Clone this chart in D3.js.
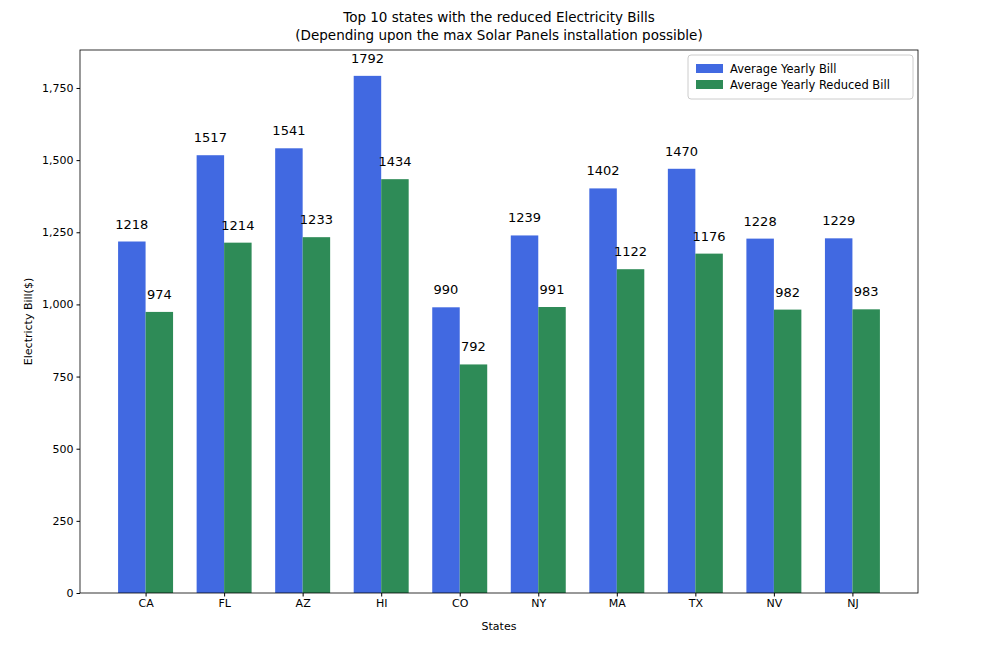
<!DOCTYPE html>
<html>
<head>
<meta charset="utf-8">
<script src="https://cdn.jsdelivr.net/npm/d3@7"></script>
<style>
  body { margin: 0; background: #fff; }
  text { font-family: "DejaVu Sans", sans-serif; }
</style>
</head>
<body>
<div id="chart"></div>
<script>
var states = ["CA", "FL", "AZ", "HI", "CO", "NY", "MA", "TX", "NV", "NJ"];
var yearlyBill = [1218, 1517, 1541, 1792, 990, 1239, 1402, 1470, 1228, 1229];
var reducedBill = [974, 1214, 1233, 1434, 792, 991, 1122, 1176, 982, 983];
var yTicks = [0, 250, 500, 750, 1000, 1250, 1500, 1750];

var full_width = 981, full_height = 650;
var margin = {'top': 50, 'right': 63, 'bottom': 57, 'left': 80};
var width = full_width - margin.left - margin.right;
var height = full_height - margin.top - margin.bottom;
var barW = 0.35;

var svg = d3.select("#chart").append("svg")
    .attr("width", full_width).attr("height", full_height)
    .append("g")
    .attr("transform", "translate(" + margin.left + "," + margin.top + ")");

var x = d3.scaleLinear().domain([-0.835, states.length - 1 + 0.835]).range([0, width]);
var y = d3.scaleLinear().domain([0, 1792 * 1.05]).range([height, 0]);

var series = [
  {values: yearlyBill, color: "#4169e1", offset: -barW, name: "Average Yearly Bill"},
  {values: reducedBill, color: "#2e8b57", offset: 0, name: "Average Yearly Reduced Bill"}
];

series.forEach(function(s) {
  svg.selectAll(null).data(s.values).enter().append("rect")
    .attr("x", (d, i) => x(i + s.offset))
    .attr("width", x(barW) - x(0))
    .attr("y", d => y(d))
    .attr("height", d => y(0) - y(d))
    .attr("fill", s.color);
  svg.selectAll(null).data(s.values).enter().append("text")
    .attr("x", (d, i) => x(i + s.offset + barW / 2))
    .attr("y", d => y(d) - 13)
    .attr("text-anchor", "middle")
    .attr("font-size", 13)
    .attr("fill", "#000")
    .text(d => d);
});

// axes
svg.append("g")
  .attr("transform", "translate(0," + height + ")")
  .call(d3.axisBottom(x).tickValues(d3.range(states.length)).tickFormat(i => states[i]).tickSize(3.5).tickSizeOuter(0))
  .call(g => g.select(".domain").remove())
  .selectAll("text").attr("font-size", 11).attr("font-family", "DejaVu Sans");

svg.append("g")
  .call(d3.axisLeft(y).tickValues(yTicks).tickSize(3.5).tickSizeOuter(0))
  .call(g => g.select(".domain").remove())
  .selectAll("text").attr("font-size", 11).attr("font-family", "DejaVu Sans");

svg.append("rect")
  .attr("width", width).attr("height", height)
  .attr("fill", "none").attr("stroke", "#000").attr("stroke-width", 0.8);

// labels
svg.append("text").attr("x", width / 2).attr("y", height + 37)
  .attr("text-anchor", "middle").attr("font-size", 11).text("States");
svg.append("text").attr("transform", "translate(-48," + (height / 2) + ") rotate(-90)")
  .attr("text-anchor", "middle").attr("font-size", 11).text("Electricty Bill($)");

svg.append("text").attr("x", width / 2).attr("y", -28)
  .attr("text-anchor", "middle").attr("font-size", 13.5).text("Top 10 states with the reduced Electricity Bills");
svg.append("text").attr("x", width / 2).attr("y", -10)
  .attr("text-anchor", "middle").attr("font-size", 13.5).text("(Depending upon the max Solar Panels installation possible)");

// legend
var lg = svg.append("g").attr("transform", "translate(" + (width - 230) + ",5)");
lg.append("rect").attr("width", 225).attr("height", 44).attr("rx", 3)
  .attr("fill", "#fff").attr("stroke", "#ccc");
series.forEach(function(s, i) {
  lg.append("rect").attr("x", 8).attr("y", 9 + i * 16).attr("width", 27).attr("height", 9).attr("fill", s.color);
  lg.append("text").attr("x", 42).attr("y", 17.5 + i * 16).attr("font-size", 11.5).text(s.name);
});
</script>
</body>
</html>
